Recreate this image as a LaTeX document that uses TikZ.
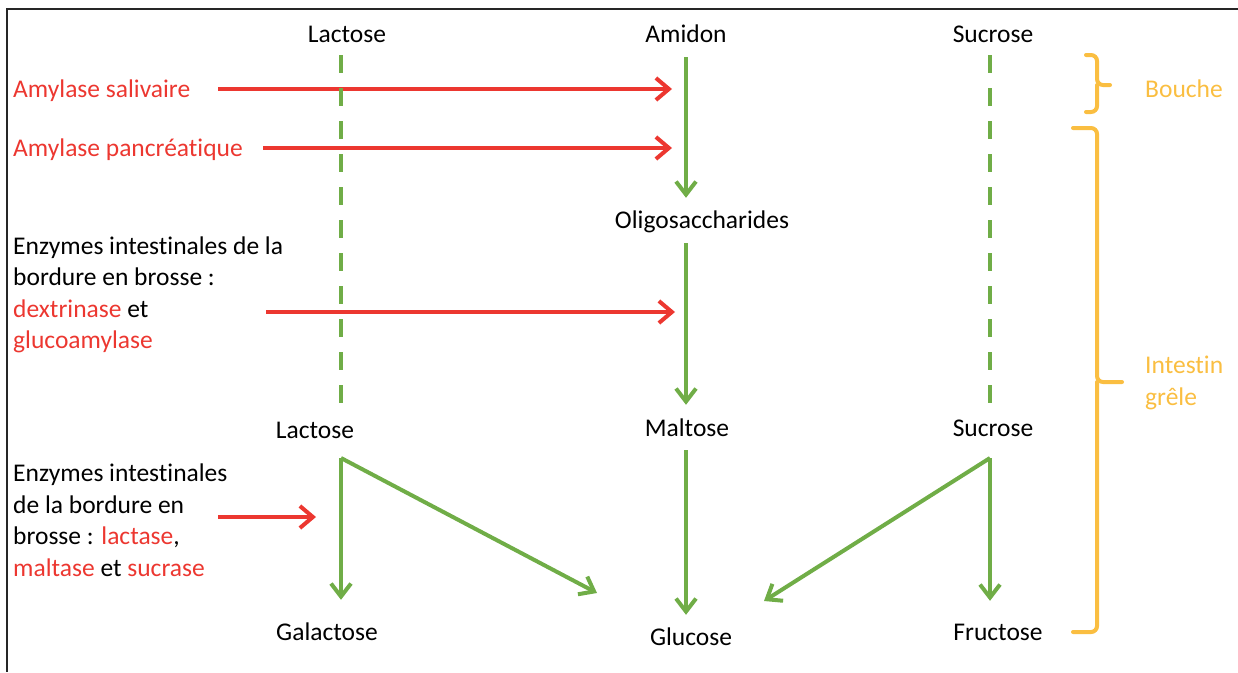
\documentclass[tikz,border=0pt]{standalone}
\usepackage{fontspec}
\setmainfont[Ligatures=NoCommon]{Carlito}
\usetikzlibrary{arrows.meta}
\definecolor{vert}{RGB}{112,173,71}
\definecolor{rouge}{RGB}{236,55,48}
\definecolor{jaune}{RGB}{250,190,65}

\begin{document}
\begin{tikzpicture}[x=1pt, y=-1pt,
		sucre/.style={font=\fontsize{25.5}{30}\selectfont, inner sep=0pt, text height=17pt, text depth=5pt, yshift=-2pt},
		enz/.style={font=\fontsize{25.5}{31.5}\selectfont, inner sep=0pt, align=left, anchor=west, yshift=-2pt},
		voie/.style={vert, line width=4pt, -{Straight Barb[length=13pt, width=20pt]}},
		pointille/.style={vert, line width=4pt, dash pattern=on 18pt off 15pt},
		enzfl/.style={rouge, line width=4pt, -{Straight Barb[length=13pt, width=22pt]}},
		accolade/.style={jaune, line width=4pt, rounded corners=6pt, line cap=round}]
		\useasboundingbox (0, 0) rectangle (1238, 672);
		\draw[line width=2pt, black!85] (1238, 9) -- (7, 9) -- (7, 672);

		% sucres
		\node[sucre] at (347, 34) (lac1) {Lactose};
		\node[sucre] at (686, 34) (ami) {Amidon};
		\node[sucre] at (993, 34) (suc1) {Sucrose};
		\node[sucre] at (702, 220) (oli) {Oligosaccharides};
		\node[sucre] at (315, 430) (lac2) {Lactose};
		\node[sucre] at (687, 428) (mal) {Maltose};
		\node[sucre] at (993, 428) (suc2) {Sucrose};
		\node[sucre] at (327, 632) (gal) {Galactose};
		\node[sucre] at (691, 637) (glu) {Glucose};
		\node[sucre] at (998, 632) (fru) {Fructose};

		\coordinate (lacfork) at (341, 458);
		\coordinate (sucfork) at (990, 458);
		\coordinate (gluL) at (597, 593);
		\coordinate (gluR) at (764, 601);

		% enzymes
		\node[enz, rouge] at (13, 89) (sal) {Amylase salivaire};
		\node[enz, rouge] at (13, 148) (pan) {Amylase pancréatique};
		\node[enz] at (13, 293) (dex) {Enzymes intestinales de la\\bordure en brosse :\\\textcolor{rouge}{dextrinase} et\\\textcolor{rouge}{glucoamylase}};
		\node[enz] at (13, 518) (bro) {Enzymes intestinales\\de la bordure en\\brosse : \textcolor{rouge}{lactase},\\\textcolor{rouge}{maltase} et \textcolor{rouge}{sucrase}};

		\coordinate (e1) at (218, 89);   \coordinate (f1) at (672, 89);
		\coordinate (e2) at (263, 148);  \coordinate (f2) at (672, 148);
		\coordinate (e3) at (266, 312);  \coordinate (f3) at (675, 312);
		\coordinate (e4) at (218, 517);  \coordinate (f4) at (316, 517);

		\draw[enzfl] (e1) -- (f1);
		\draw[enzfl] (e2) -- (f2);
		\draw[enzfl] (e3) -- (f3);
		\draw[enzfl] (e4) -- (f4);

		% voies
		\draw[pointille, shorten <=8pt, shorten >=11pt] (lac1.south -| lacfork) -- (lac2.north -| lacfork);
		\draw[pointille, shorten <=8pt, shorten >=11pt] (suc1.south -| sucfork) -- (suc2.north -| sucfork);
		\draw[voie, shorten <=10pt, shorten >=13pt] (ami.south) -- (ami |- oli.north);
		\draw[voie, shorten <=10pt, shorten >=14pt] (ami |- oli.south) -- (ami |- mal.north);
		\draw[voie, shorten <=9pt, shorten >=13pt] (ami |- mal.south) -- (ami |- glu.north);
		\draw[voie, shorten >=23pt] (lacfork) -- (gal.north -| lacfork);
		\draw[voie] (lacfork) -- (gluL);
		\draw[voie, shorten >=22pt] (sucfork) -- (fru.north -| sucfork);
		\draw[voie] (sucfork) -- (gluR);

		% organes
		\draw[accolade] (1086, 55) -- (1097, 55) -- (1097, 85) -- (1110, 85);
		\draw[accolade] (1097, 85) -- (1097, 112) -- (1086, 112);
		\draw[accolade] (1073, 128) -- (1097, 128) -- (1097, 382) -- (1122, 382);
		\draw[accolade] (1097, 382) -- (1097, 632) -- (1073, 632);
		\node[sucre, jaune] at (1184, 89) (bou) {Bouche};
		\node[enz, jaune] at (1145, 381) (int) {Intestin\\grêle};
	\end{tikzpicture}
\end{document}
